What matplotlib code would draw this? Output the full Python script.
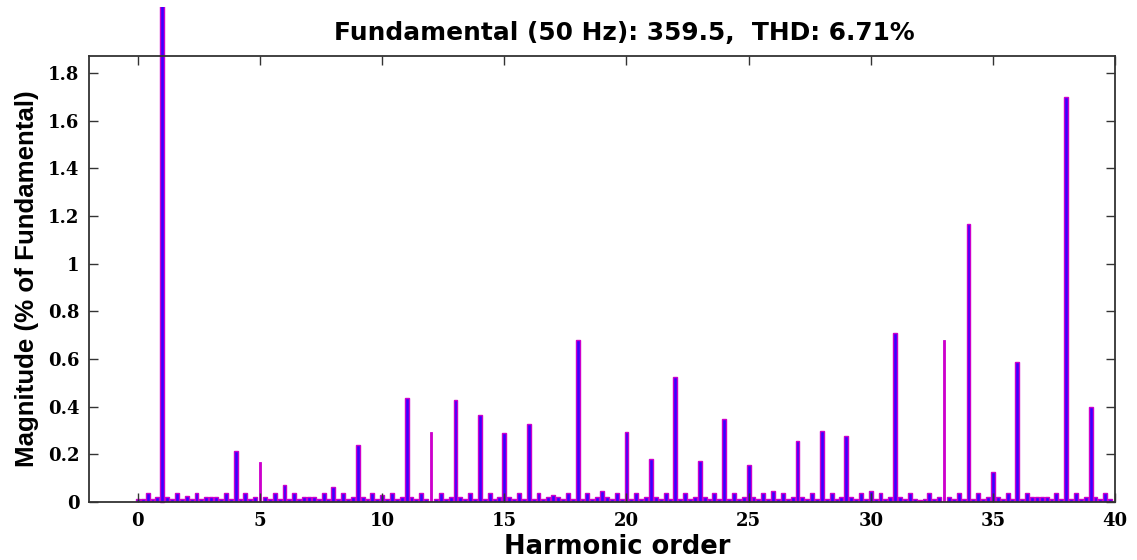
import matplotlib
matplotlib.use('Agg')
import numpy as np
import matplotlib.pyplot as plt
import matplotlib.transforms as mtransforms

# FFT result, 0.2 harmonic-order resolution (10 Hz bins of a 50 Hz fundamental)
# one row per harmonic order: h, h+0.2, h+0.4, h+0.6, h+0.8
magnitude = [
    0.013, 0.013, 0.038, 0.013, 0.021,
    100.0, 0.021, 0.013, 0.038, 0.013,
    0.025, 0.013, 0.038, 0.013, 0.021,
    0.021, 0.021, 0.013, 0.038, 0.013,
    0.215, 0.013, 0.038, 0.013, 0.021,
    0.169, 0.021, 0.013, 0.038, 0.013,
    0.073, 0.013, 0.038, 0.013, 0.021,
    0.021, 0.021, 0.013, 0.038, 0.013,
    0.062, 0.013, 0.038, 0.013, 0.021,
    0.239, 0.021, 0.013, 0.038, 0.013,
    0.030, 0.013, 0.038, 0.013, 0.021,
    0.435, 0.021, 0.013, 0.038, 0.013,
    0.295, 0.013, 0.038, 0.013, 0.021,
    0.430, 0.021, 0.013, 0.038, 0.013,
    0.365, 0.013, 0.038, 0.013, 0.021,
    0.291, 0.021, 0.013, 0.038, 0.013,
    0.327, 0.013, 0.038, 0.013, 0.021,
    0.030, 0.021, 0.013, 0.038, 0.013,
    0.680, 0.013, 0.038, 0.013, 0.021,
    0.046, 0.021, 0.013, 0.038, 0.013,
    0.295, 0.013, 0.038, 0.013, 0.021,
    0.179, 0.021, 0.013, 0.038, 0.013,
    0.525, 0.013, 0.038, 0.013, 0.021,
    0.171, 0.021, 0.013, 0.038, 0.013,
    0.347, 0.013, 0.038, 0.013, 0.021,
    0.157, 0.021, 0.013, 0.038, 0.013,
    0.046, 0.013, 0.038, 0.013, 0.021,
    0.257, 0.021, 0.013, 0.038, 0.013,
    0.299, 0.013, 0.038, 0.013, 0.021,
    0.277, 0.021, 0.013, 0.038, 0.013,
    0.046, 0.013, 0.038, 0.013, 0.021,
    0.708, 0.021, 0.013, 0.038, 0.013,
    0.010, 0.013, 0.038, 0.013, 0.021,
    0.680, 0.021, 0.013, 0.038, 0.013,
    1.167, 0.013, 0.038, 0.013, 0.021,
    0.127, 0.021, 0.013, 0.038, 0.013,
    0.586, 0.013, 0.038, 0.021, 0.021,
    0.021, 0.021, 0.013, 0.038, 0.013,
    1.702, 0.013, 0.038, 0.013, 0.021,
    0.400, 0.021, 0.013, 0.038, 0.013,
]
order = np.arange(len(magnitude)) * 0.2
fundamental = 359.5
thd = 6.71
thin_orders = [5, 12, 33]   # bars rendered as a single magenta stroke

xticks = [0, 5, 10, 15, 20, 25, 30, 35, 40]
yticks = [0, 0.2, 0.4, 0.6, 0.8, 1, 1.2, 1.4, 1.6, 1.8]
yticklabels = ['0', '0.2', '0.4', '0.6', '0.8', '1', '1.2', '1.4', '1.6', '1.8']

blue = '#3a00ff'
magenta = '#cc00cc'

fig = plt.figure(figsize=(11.37, 5.6), dpi=100)
ax = fig.add_axes([0.0783, 0.1036, 0.9024, 0.7964])

is_thin = np.isin(np.round(order, 1), thin_orders)
bars = ax.bar(order[~is_thin], np.array(magnitude)[~is_thin], width=0.16,
              color=blue, edgecolor=magenta, linewidth=1.0)
ax.bar(order[is_thin], np.array(magnitude)[is_thin], width=0.09,
       color=magenta, edgecolor=magenta, linewidth=0.6)

# the fundamental runs off the top of the axes, up to the figure edge
for b, x in zip(bars, order[~is_thin]):
    if abs(x - 1) < 1e-6:
        b.set_clip_box(mtransforms.TransformedBbox(
            mtransforms.Bbox([[0, 0], [1, 0.988]]), fig.transFigure))

ax.set_xlim(-2, 40)
ax.set_ylim(0, 1.872)
ax.set_xticks(xticks)
ax.set_xticklabels([str(t) for t in xticks])
ax.set_yticks(yticks)
ax.set_yticklabels(yticklabels)

tick_font = dict(family='DejaVu Serif', weight='bold', size=13)
for lab in ax.get_xticklabels() + ax.get_yticklabels():
    lab.set_fontproperties(matplotlib.font_manager.FontProperties(**tick_font))

ax.tick_params(direction='in', length=6.5, width=1.0, color='#333333',
               top=True, right=True, pad=7)
for s in ax.spines.values():
    s.set_linewidth(1.3)
    s.set_color('#333333')

wide_font = dict(family='DejaVu Sans', weight='bold', size=18.5)
ax.set_xlabel('Harmonic order', **wide_font)
ax.xaxis.set_label_coords(0.5146, -0.072)
ax.set_ylabel('Magnitude (% of Fundamental)', labelpad=6,
              family='Liberation Sans', weight='bold', size=18.6)

fig.text(0.549, 0.941,
         'Fundamental (50 Hz): %.1f,  THD: %.2f%%' % (fundamental, thd),
         ha='center', va='center', family='DejaVu Sans', weight='bold', size=17.9)

plt.savefig('out.png', dpi=100)
